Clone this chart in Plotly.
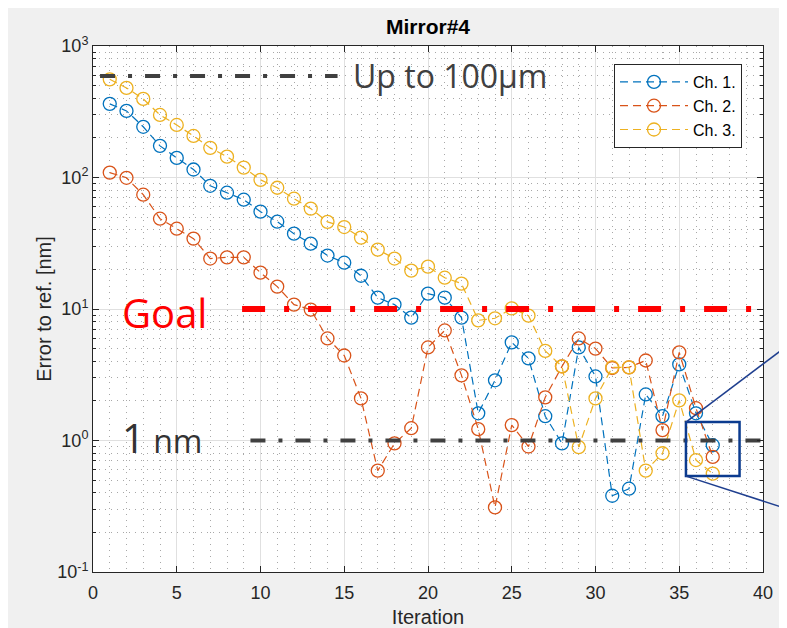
import math
import plotly.graph_objects as go

iterations = list(range(1, 38))

ch1 = [363, 321, 243, 174, 141, 115, 86.5, 76.6, 67.8, 55, 46.1, 37.4, 31.4, 25.5, 22.5,
       17.9, 12.2, 10.8, 8.6, 13.1, 12.2, 8.6, 1.61, 2.87, 5.57, 4.21, 1.53, 0.95, 5.1,
       3.07, 0.38, 0.43, 2.24, 1.53, 3.79, 1.61, 0.92]
ch2 = [109, 99.5, 74, 48.6, 40.8, 34.3, 24.2, 24.7, 24.7, 18.9, 14.8, 10.8, 9.9, 5.97,
       4.43, 2.09, 0.59, 0.95, 1.24, 5.1, 6.87, 3.13, 1.22, 0.31, 1.31, 0.90, 2.13, 3.66,
       5.97, 5.0, 3.56, 3.6, 4.06, 1.20, 4.68, 1.76, 0.75]
ch3 = [558, 480, 396, 299, 251, 207, 168, 144, 119, 96, 83.6, 69, 58, 46, 42, 34.9, 28.3,
       24.2, 19.6, 21, 17.3, 15.6, 8.2, 8.5, 10.1, 8.9, 4.8, 3.66, 0.89, 2.09, 3.6, 3.6,
       0.59, 0.80, 2.02, 0.71, 0.56]

series_names = ["Ch. 1.", "Ch. 2.", "Ch. 3."]
series_colors = ["#0072BD", "#D95319", "#EDB120"]

x_ticks = [0, 5, 10, 15, 20, 25, 30, 35, 40]
y_tickvals = [0.1, 1, 10, 100, 1000]
y_ticktext = ["10<sup>-1</sup>", "10<sup>0</sup>", "10<sup>1</sup>", "10<sup>2</sup>", "10<sup>3</sup>"]

# reference lines (x-start, x-end, level)
up_line_x = [0.42, 14.6]
up_level = 592
goal_line_x = [8.9, 40]
goal_level = 10
nm_line_x = [9.4, 40]
nm_level = 1

# zoom box (data coordinates)
box_x = [35.4, 38.6]
box_y = [0.536, 1.38]

X_RANGE = [0, 40]
Y_RANGE_LOG = [-1, 3]

fig = go.Figure()

for name, vals, col in zip(series_names, [ch1, ch2, ch3], series_colors):
    fig.add_trace(go.Scatter(
        x=iterations, y=vals, name=name, mode="lines+markers",
        line=dict(color=col, width=1.2, dash="8px,5px"),
        marker=dict(symbol="circle-open", size=13, color=col, line=dict(width=1.3)),
    ))

fig.add_trace(go.Scatter(x=up_line_x, y=[up_level] * 2, mode="lines", showlegend=False,
                         line=dict(color="#404040", width=4, dash="15px,13px,4px,13px"),
                         hoverinfo="skip"))
fig.add_trace(go.Scatter(x=goal_line_x, y=[goal_level] * 2, mode="lines", showlegend=False,
                         line=dict(color="#ff0000", width=6, dash="23px,19px,5px,19px"),
                         hoverinfo="skip"))
fig.add_trace(go.Scatter(x=nm_line_x, y=[nm_level] * 2, mode="lines", showlegend=False,
                         line=dict(color="#404040", width=4, dash="15px,13px,4px,13px"),
                         hoverinfo="skip"))

# annotations
fig.add_annotation(x=15.4, y=math.log10(up_level), xref="x", yref="y", text="Up to 100µm",
                   showarrow=False, xanchor="left", yanchor="middle",
                   font=dict(family="Open Sans", size=32, color="#404040"))
fig.add_annotation(x=1.6, y=math.log10(9.4), xref="x", yref="y", text="Goal",
                   showarrow=False, xanchor="left", yanchor="middle",
                   font=dict(family="Open Sans", size=40, color="#ff0000"))
fig.add_annotation(x=1.6, y=math.log10(1.05), xref="x", yref="y",
                   text="<span style='font-size:40px'>1</span> nm",
                   showarrow=False, xanchor="left", yanchor="middle",
                   font=dict(family="Open Sans", size=32, color="#333333"))

# zoom box
fig.add_shape(type="rect", xref="x", yref="y", x0=box_x[0], x1=box_x[1], y0=box_y[0], y1=box_y[1],
              line=dict(color="#0b3b8f", width=2.5))


def px(v):
    return (v - X_RANGE[0]) / (X_RANGE[1] - X_RANGE[0])


def py(v):
    return (math.log10(v) - Y_RANGE_LOG[0]) / (Y_RANGE_LOG[1] - Y_RANGE_LOG[0])


fig.add_shape(type="line", xref="paper", yref="paper", x0=px(box_x[0]), y0=py(box_y[1]),
              x1=1.036, y1=0.43, line=dict(color="#1f3f8f", width=1.5))
fig.add_shape(type="line", xref="paper", yref="paper", x0=px(box_x[0]), y0=py(box_y[0]),
              x1=1.036, y1=0.12, line=dict(color="#1f3f8f", width=1.5))

axis_common = dict(
    showline=True, linecolor="#262626", linewidth=1, mirror="ticks",
    ticks="inside", ticklen=6, tickcolor="#262626",
    showgrid=True, gridcolor="#e0e0e0", gridwidth=1, zeroline=False,
    tickfont=dict(family="Liberation Sans", size=18, color="#262626"),
    automargin=False,
)

fig.update_layout(
    width=779, height=620,
    paper_bgcolor="#f0f0f0", plot_bgcolor="white",
    margin=dict(l=85, r=24, t=38, b=56),
    title=dict(text="<b>Mirror#4</b>", x=420 / 779, xanchor="center",
               y=1 - 19 / 620, yanchor="middle",
               font=dict(family="Liberation Sans", size=21, color="black")),
    xaxis=dict(range=X_RANGE, tickvals=x_ticks, **axis_common,
               ticklabelstandoff=4,
               title=dict(text="Iteration", standoff=14,
                          font=dict(family="Liberation Sans", size=20, color="#262626")),
               minor=dict(dtick=1, showgrid=True, gridcolor="#a8a8a8", griddash="1px,5px",
                          ticks="")),
    yaxis=dict(type="log", range=Y_RANGE_LOG, tickvals=y_tickvals, ticktext=y_ticktext,
               **axis_common,
               title=dict(text="Error to ref. [nm]", standoff=0,
                          font=dict(family="Liberation Sans", size=20, color="#262626")),
               minor=dict(dtick="D1", showgrid=True, gridcolor="#a8a8a8", griddash="1px,5px",
                          ticks="inside", ticklen=3, tickcolor="#262626")),
    legend=dict(x=(614 - 93) / 670, y=(572 - 64) / 526, xanchor="left", yanchor="top",
                bgcolor="white", bordercolor="#262626", borderwidth=1,
                font=dict(family="Liberation Sans", size=16, color="black"),
                tracegroupgap=0, itemwidth=68),
    showlegend=True,
)

fig.write_html("out.html")
